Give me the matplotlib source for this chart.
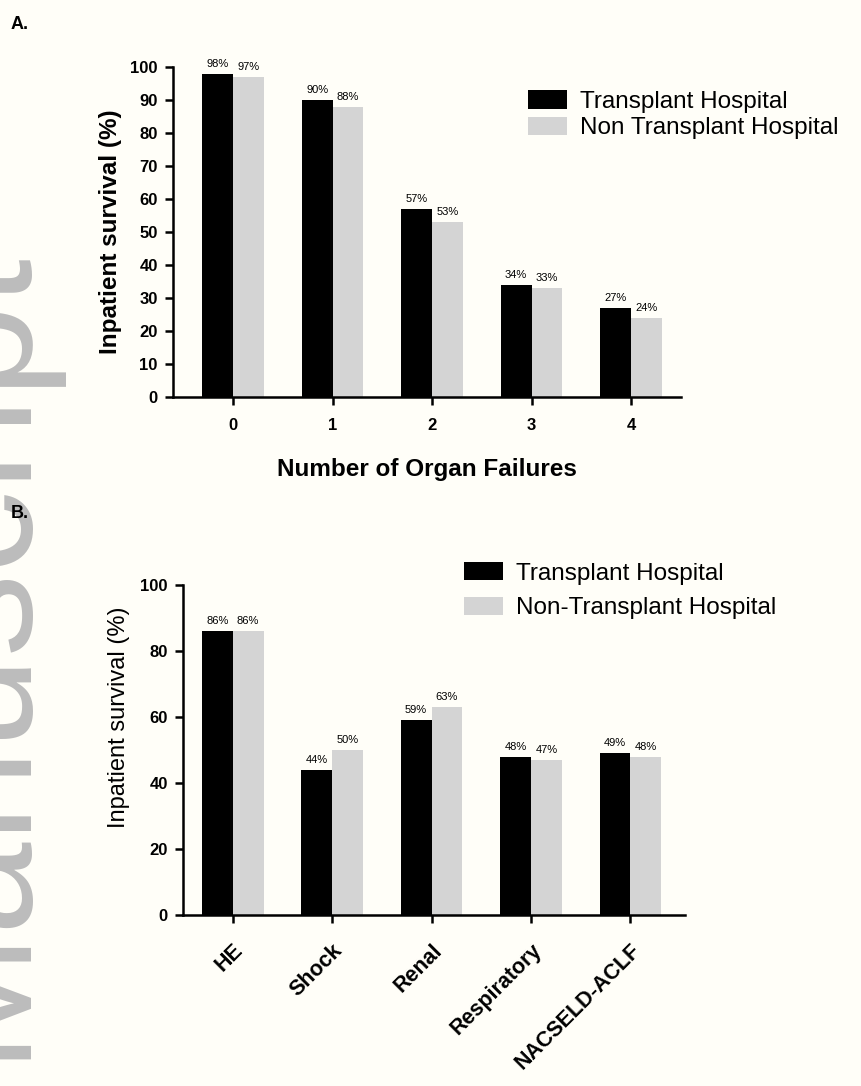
import matplotlib.pyplot as plt
import numpy as np
from matplotlib import rc

rc('font', family=['Liberation Sans', 'DejaVu Sans'])

# panel A data
organ_failures = ['0', '1', '2', '3', '4']
transplant_a = [98, 90, 57, 34, 27]
non_transplant_a = [97, 88, 53, 33, 24]

# panel B data
organ_types = ['HE', 'Shock', 'Renal', 'Respiratory', 'NACSELD-ACLF']
transplant_b = [86, 44, 59, 48, 49]
non_transplant_b = [86, 50, 63, 47, 48]

bg = '#fffef8'
grey = '#d4d4d4'
width = 0.31

fig = plt.figure(figsize=(8.62, 10.86), dpi=100, facecolor=bg)

# faint watermark down the left edge
fig.text(0.062, 0.40, 'Manuscript', rotation=90, fontsize=120, color='#bcbcbc',
         ha='right', va='center', zorder=0)


def bar_labels(ax, xs, vals, size):
    for x, v in zip(xs, vals):
        ax.text(x, v + 1.5, '%d%%' % v, ha='center', va='bottom', fontsize=size,
                clip_on=False)


def style_axis(ax):
    ax.set_facecolor('none')
    for s in ['top', 'right']:
        ax.spines[s].set_visible(False)
    for s in ['left', 'bottom']:
        ax.spines[s].set_linewidth(1.8)
    ax.tick_params(width=1.8, length=6, pad=5)


# ---- panel A ----
axA = fig.add_axes([0.2007, 0.6344, 0.589, 0.3036])
x = np.arange(len(organ_failures))
axA.bar(x - width / 2, transplant_a, width, color='black', label='Transplant Hospital')
axA.bar(x + width / 2, non_transplant_a, width, color=grey, label='Non Transplant Hospital')
bar_labels(axA, x - width / 2, transplant_a, 8)
bar_labels(axA, x + width / 2, non_transplant_a, 8)
axA.set_xlim(-0.605, 4.5)
axA.set_ylim(0, 100)
axA.set_yticks(range(0, 101, 10))
axA.set_xticks(x)
axA.set_xticklabels(organ_failures)
style_axis(axA)
axA.tick_params(axis='x', pad=9)
for lab in axA.get_xticklabels() + axA.get_yticklabels():
    lab.set_fontweight('bold')
    lab.set_fontsize(12)
axA.set_ylabel('Inpatient survival (%)', fontsize=17.5, fontweight='bold', labelpad=6)
axA.set_xlabel('Number of Organ Failures', fontsize=17.5, fontweight='bold', labelpad=18)
axA.legend(loc='upper left', bbox_to_anchor=(0.68, 0.96), frameon=False, fontsize=17.5,
           handlelength=1.6, handleheight=0.8, handletextpad=0.55, labelspacing=0.15,
           borderaxespad=0)
fig.text(0.012, 0.985, 'A.', fontsize=13, fontweight='bold', va='top')

# ---- panel B ----
axB = fig.add_axes([0.2123, 0.1575, 0.5824, 0.3038])
x = np.arange(len(organ_types))
axB.bar(x - width / 2, transplant_b, width, color='black', label='Transplant Hospital')
axB.bar(x + width / 2, non_transplant_b, width, color=grey, label='Non-Transplant Hospital')
bar_labels(axB, x - width / 2, transplant_b, 8)
bar_labels(axB, x + width / 2, non_transplant_b, 8)
axB.set_xlim(-0.5, 4.55)
axB.set_ylim(0, 100)
axB.set_yticks(range(0, 101, 20))
axB.set_xticks(x)
axB.set_xticklabels(organ_types, rotation=45, ha='right', rotation_mode='anchor')
style_axis(axB)
axB.tick_params(axis='x', pad=12)
for lab in axB.get_xticklabels():
    lab.set_fontweight('bold')
    lab.set_fontsize(15.5)
for lab in axB.get_yticklabels():
    lab.set_fontweight('bold')
    lab.set_fontsize(12)
axB.set_ylabel('Inpatient survival (%)', fontsize=17)
axB.yaxis.set_label_coords(-0.105, 0.6)
axB.legend(loc='upper left', bbox_to_anchor=(0.54, 1.1), frameon=False, fontsize=17.5,
           handlelength=1.6, handleheight=0.8, handletextpad=0.55, labelspacing=0.5,
           borderaxespad=0)
fig.text(0.012, 0.535, 'B.', fontsize=13, fontweight='bold', va='top')

plt.savefig('out.png', dpi=100, facecolor=bg)
